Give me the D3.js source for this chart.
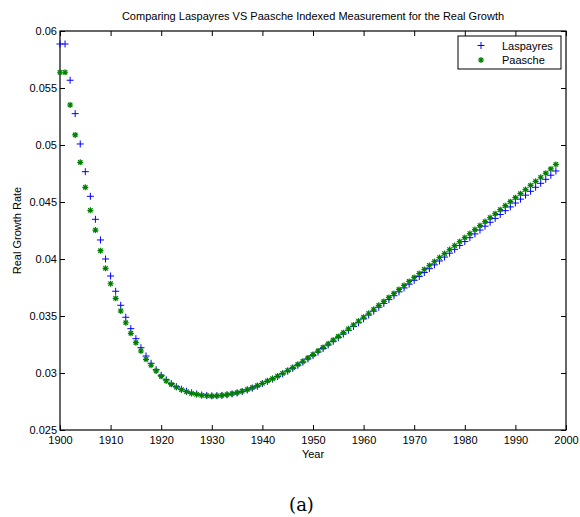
<!DOCTYPE html>
<html>
<head>
<meta charset="utf-8">
<script src="https://cdn.jsdelivr.net/npm/d3@7"></script>
<style>
  body { margin: 0; background: #fff; }
  text { font-family: "Liberation Sans", Arial, sans-serif; }
  .axis text { font-size: 11px; fill: #000; }
  .axis line { stroke: #000; }
</style>
</head>
<body>
<div id="chart"></div>
<script>
// years 1900..1998, one point per year
var years = d3.range(1900, 1999);

var laspayres = [
  0.05886, 0.05886, 0.05568, 0.05275, 0.05009, 0.04766, 0.04550, 0.04348, 0.04167, 0.04000,
  0.03851, 0.03717, 0.03594, 0.03489, 0.03389, 0.03301, 0.03222, 0.03149, 0.03085, 0.03029,
  0.02980, 0.02940, 0.02907, 0.02880, 0.02858, 0.02840, 0.02826, 0.02816, 0.02807, 0.02803,
  0.02800, 0.02801, 0.02804, 0.02809, 0.02816, 0.02825, 0.02837, 0.02851, 0.02867, 0.02884,
  0.02907, 0.02927, 0.02947, 0.02969, 0.02992, 0.03016, 0.03041, 0.03068, 0.03095, 0.03124,
  0.03154, 0.03184, 0.03215, 0.03246, 0.03278, 0.03310, 0.03342, 0.03375, 0.03408, 0.03441,
  0.03475, 0.03509, 0.03543, 0.03577, 0.03610, 0.03644, 0.03678, 0.03712, 0.03746, 0.03779,
  0.03813, 0.03847, 0.03881, 0.03915, 0.03949, 0.03983, 0.04017, 0.04051, 0.04085, 0.04119,
  0.04153, 0.04187, 0.04220, 0.04254, 0.04288, 0.04322, 0.04356, 0.04390, 0.04424, 0.04457,
  0.04491, 0.04525, 0.04560, 0.04594, 0.04629, 0.04664, 0.04699, 0.04735, 0.04772
];

var paasche = [
  0.05638, 0.05638, 0.05351, 0.05088, 0.04848, 0.04629, 0.04427, 0.04254, 0.04073, 0.03918,
  0.03783, 0.03655, 0.03544, 0.03441, 0.03348, 0.03266, 0.03193, 0.03120, 0.03068, 0.03018,
  0.02971, 0.02932, 0.02901, 0.02875, 0.02854, 0.02836, 0.02822, 0.02813, 0.02804, 0.02801,
  0.02798, 0.02800, 0.02804, 0.02810, 0.02818, 0.02827, 0.02840, 0.02855, 0.02871, 0.02889,
  0.02910, 0.02930, 0.02950, 0.02973, 0.02997, 0.03022, 0.03048, 0.03075, 0.03103, 0.03132,
  0.03162, 0.03193, 0.03224, 0.03256, 0.03288, 0.03321, 0.03354, 0.03388, 0.03422, 0.03456,
  0.03490, 0.03524, 0.03559, 0.03594, 0.03628, 0.03663, 0.03698, 0.03733, 0.03768, 0.03803,
  0.03838, 0.03873, 0.03908, 0.03943, 0.03978, 0.04013, 0.04048, 0.04083, 0.04118, 0.04153,
  0.04188, 0.04223, 0.04258, 0.04293, 0.04328, 0.04363, 0.04398, 0.04433, 0.04468, 0.04503,
  0.04538, 0.04573, 0.04609, 0.04645, 0.04681, 0.04717, 0.04753, 0.04790, 0.04830
];

var xTicks = [1900, 1910, 1920, 1930, 1940, 1950, 1960, 1970, 1980, 1990, 2000];
var yTicks = [0.025, 0.03, 0.035, 0.04, 0.045, 0.05, 0.055, 0.06];
var yTickLabels = ["0.025", "0.03", "0.035", "0.04", "0.045", "0.05", "0.055", "0.06"];

var svgWidth = 580;
var svgHeight = 517;

var margin = { top: 31, right: 14, bottom: 87, left: 60 };

var width = svgWidth - margin.left - margin.right;
var height = svgHeight - margin.top - margin.bottom;

var svg = d3.select("#chart")
  .append("svg")
  .attr("width", svgWidth)
  .attr("height", svgHeight);

var chartGroup = svg.append("g")
  .attr("transform", `translate(${margin.left}, ${margin.top})`);

var xScale = d3.scaleLinear().domain([1900, 2000]).range([0, width]);
var yScale = d3.scaleLinear().domain([0.025, 0.06]).range([height, 0]);

// axes, ticks pointing inward like matlab
var bottomAxis = d3.axisBottom(xScale).tickValues(xTicks).tickFormat(d3.format("d"))
  .tickSizeInner(-5).tickSizeOuter(0).tickPadding(6);
var leftAxis = d3.axisLeft(yScale).tickValues(yTicks).tickFormat((d, i) => yTickLabels[i])
  .tickSizeInner(-5).tickSizeOuter(0).tickPadding(3);
var topAxis = d3.axisTop(xScale).tickValues(xTicks).tickFormat("")
  .tickSizeInner(-5).tickSizeOuter(0);
var rightAxis = d3.axisRight(yScale).tickValues(yTicks).tickFormat("")
  .tickSizeInner(-5).tickSizeOuter(0);

chartGroup.append("g").attr("class", "axis")
  .attr("transform", `translate(0, ${height})`).call(bottomAxis);
chartGroup.append("g").attr("class", "axis").call(leftAxis);
chartGroup.append("g").attr("class", "axis").call(topAxis);
chartGroup.append("g").attr("class", "axis")
  .attr("transform", `translate(${width}, 0)`).call(rightAxis);
chartGroup.selectAll(".axis .domain").remove();
chartGroup.selectAll(".axis text").attr("font-family", null);

// plot box
chartGroup.append("rect")
  .attr("width", width)
  .attr("height", height)
  .attr("fill", "none")
  .attr("stroke", "#000")
  .attr("stroke-width", 1.2);

// marker shapes
var plusPath = "M-3.5,0H3.5M0,-3.5V3.5";
var starPath = "M-3,0H3M0,-3V3M-2.2,-2.2L2.2,2.2M-2.2,2.2L2.2,-2.2";

var lasData = years.map((y, i) => ({ year: y, value: laspayres[i] }));
var paaData = years.map((y, i) => ({ year: y, value: paasche[i] }));

chartGroup.selectAll(".las")
  .data(lasData)
  .enter()
  .append("path")
  .attr("class", "las")
  .attr("transform", d => `translate(${xScale(d.year)}, ${yScale(d.value)})`)
  .attr("d", plusPath)
  .attr("stroke", "#0000ff")
  .attr("stroke-width", 1)
  .attr("fill", "none");

chartGroup.selectAll(".paa")
  .data(paaData)
  .enter()
  .append("path")
  .attr("class", "paa")
  .attr("transform", d => `translate(${xScale(d.year)}, ${yScale(d.value)})`)
  .attr("d", starPath)
  .attr("stroke", "#008000")
  .attr("stroke-width", 1.2)
  .attr("fill", "none");

// title and labels
svg.append("text")
  .attr("x", margin.left + width / 2)
  .attr("y", 20)
  .attr("text-anchor", "middle")
  .attr("font-size", "11px")
  .text("Comparing Laspayres VS Paasche Indexed Measurement for the Real Growth");

svg.append("text")
  .attr("x", margin.left + width / 2)
  .attr("y", 458)
  .attr("text-anchor", "middle")
  .attr("font-size", "11px")
  .text("Year");

svg.append("text")
  .attr("transform", "rotate(-90)")
  .attr("x", -(margin.top + height / 2))
  .attr("y", 21)
  .attr("text-anchor", "middle")
  .attr("font-size", "11px")
  .text("Real Growth Rate");

// legend
var legend = svg.append("g");
legend.append("rect")
  .attr("x", 458)
  .attr("y", 36)
  .attr("width", 103)
  .attr("height", 33)
  .attr("fill", "#fff")
  .attr("stroke", "#000");
legend.append("path")
  .attr("transform", "translate(481, 45.5)")
  .attr("d", plusPath)
  .attr("stroke", "#0000ff")
  .attr("fill", "none");
legend.append("path")
  .attr("transform", "translate(481, 60)")
  .attr("d", starPath)
  .attr("stroke", "#008000")
  .attr("stroke-width", 1.2)
  .attr("fill", "none");
legend.append("text")
  .attr("x", 502)
  .attr("y", 49.5)
  .attr("font-size", "11px")
  .text("Laspayres");
legend.append("text")
  .attr("x", 502)
  .attr("y", 64)
  .attr("font-size", "11px")
  .text("Paasche");

// sub-figure caption, serif like the latex caption
svg.append("text")
  .attr("x", 301.5)
  .attr("y", 511)
  .attr("text-anchor", "middle")
  .style("font-family", "'DejaVu Serif', 'Liberation Serif', serif")
  .style("font-size", "18px")
  .text("(a)");
</script>
</body>
</html>
